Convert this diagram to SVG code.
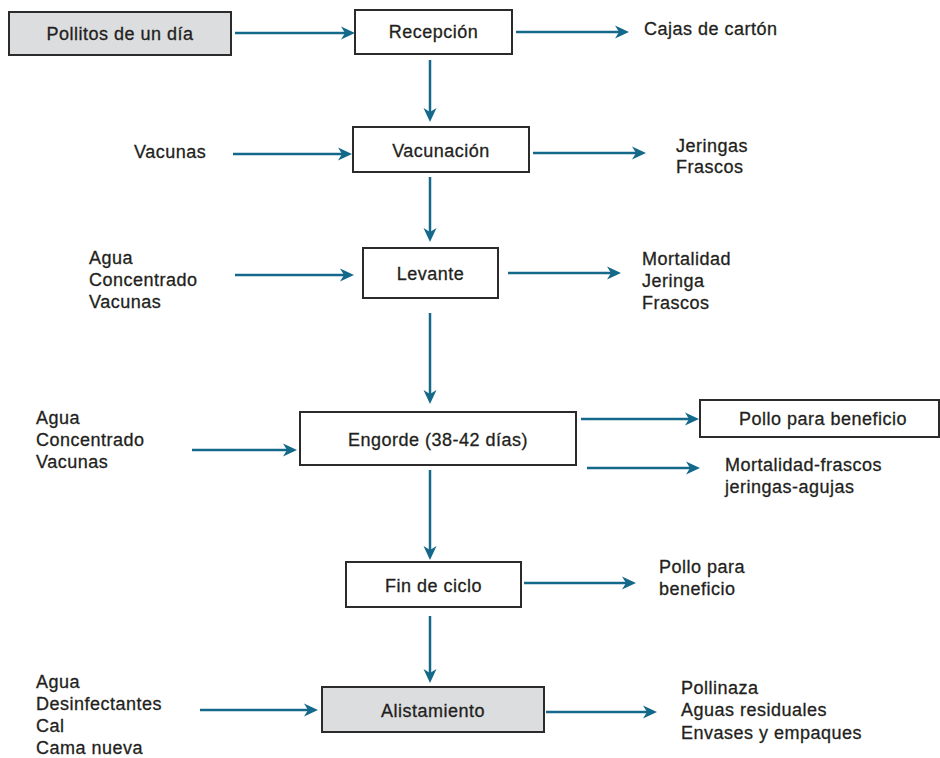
<svg xmlns="http://www.w3.org/2000/svg" width="940" height="758" viewBox="0 0 940 758">
<defs>
<style>
text{font-family:"Liberation Sans",Arial,Helvetica,sans-serif;font-size:18px;letter-spacing:0.5px;fill:#231f20;stroke:#231f20;stroke-width:0.3px}
.c{text-anchor:middle}
.box{fill:#fff;stroke:#2b2b2b;stroke-width:2}
.gray{fill:#dcdddf}
.arr{stroke:#14698a;stroke-width:2.5;fill:none;marker-end:url(#ah)}
</style>
<marker id="ah" markerUnits="userSpaceOnUse" markerWidth="15" markerHeight="15" refX="10" refY="7.5" orient="auto">
<path d="M0,1 L14,7.5 L0,14 L4,7.5 Z" fill="#14698a"/>
</marker>
</defs>
<rect width="940" height="758" fill="#fff"/>

<g id="pollitos"><rect class="box gray" x="9" y="12" width="222" height="43"/><text class="c" x="120" y="40">Pollitos de un día</text></g>
<g id="recepcion"><rect class="box" x="355" y="10" width="157" height="44"/><text class="c" x="433.5" y="38">Recepción</text></g>
<g id="cajas"><text x="644" y="35">Cajas de cartón</text></g>
<g id="vacunas-in"><text x="134" y="158">Vacunas</text></g>
<g id="vacunacion"><rect class="box" x="353" y="127" width="176" height="45"/><text class="c" x="441" y="157">Vacunación</text></g>
<g id="vac-out"><text x="676" y="152">Jeringas</text><text x="676" y="173">Frascos</text></g>
<g id="lev-in"><text x="89" y="264">Agua</text><text x="89" y="286">Concentrado</text><text x="89" y="308">Vacunas</text></g>
<g id="levante"><rect class="box" x="363" y="248" width="135" height="50"/><text class="c" x="430.5" y="280">Levante</text></g>
<g id="lev-out"><text x="642" y="265">Mortalidad</text><text x="642" y="287">Jeringa</text><text x="642" y="309">Frascos</text></g>
<g id="eng-in"><text x="36" y="424">Agua</text><text x="36" y="446">Concentrado</text><text x="36" y="468">Vacunas</text></g>
<g id="engorde"><rect class="box" x="300" y="412" width="276" height="53"/><text class="c" x="438" y="446">Engorde (38-42 días)</text></g>
<g id="pollo-box"><rect class="box" x="700" y="400" width="239" height="37"/><text x="739" y="425">Pollo para beneficio</text></g>
<g id="eng-out"><text x="725" y="471">Mortalidad-frascos</text><text x="725" y="493">jeringas-agujas</text></g>
<g id="fin"><rect class="box" x="346" y="562" width="175" height="45"/><text class="c" x="433.5" y="592">Fin de ciclo</text></g>
<g id="fin-out"><text x="659" y="573">Pollo para</text><text x="659" y="595">beneficio</text></g>
<g id="ali-in"><text x="36" y="688">Agua</text><text x="36" y="710">Desinfectantes</text><text x="36" y="732">Cal</text><text x="36" y="754">Cama nueva</text></g>
<g id="alistamiento"><rect class="box gray" x="322" y="687" width="222" height="45"/><text class="c" x="433" y="717">Alistamiento</text></g>
<g id="ali-out"><text x="681" y="694">Pollinaza</text><text x="681" y="716">Aguas residuales</text><text x="681" y="739">Envases y empaques</text></g>

<g id="connectors">
<line class="arr" x1="235" y1="33" x2="351" y2="33"/>
<line class="arr" x1="516" y1="32" x2="625" y2="32"/>
<line class="arr" x1="430" y1="60" x2="430" y2="118"/>
<line class="arr" x1="233" y1="154" x2="348" y2="154"/>
<line class="arr" x1="533" y1="153" x2="642" y2="153"/>
<line class="arr" x1="430" y1="177" x2="430" y2="238"/>
<line class="arr" x1="235" y1="275" x2="350" y2="275"/>
<line class="arr" x1="508" y1="273" x2="617" y2="273"/>
<line class="arr" x1="430" y1="313" x2="430" y2="400"/>
<line class="arr" x1="192" y1="450" x2="293" y2="450"/>
<line class="arr" x1="581" y1="419" x2="695" y2="419"/>
<line class="arr" x1="587" y1="468" x2="696" y2="468"/>
<line class="arr" x1="430" y1="470" x2="430" y2="556"/>
<line class="arr" x1="524" y1="583" x2="632" y2="583"/>
<line class="arr" x1="430" y1="616" x2="430" y2="679"/>
<line class="arr" x1="200" y1="710" x2="314" y2="710"/>
<line class="arr" x1="546" y1="712" x2="653" y2="712"/>
</g>
</svg>
